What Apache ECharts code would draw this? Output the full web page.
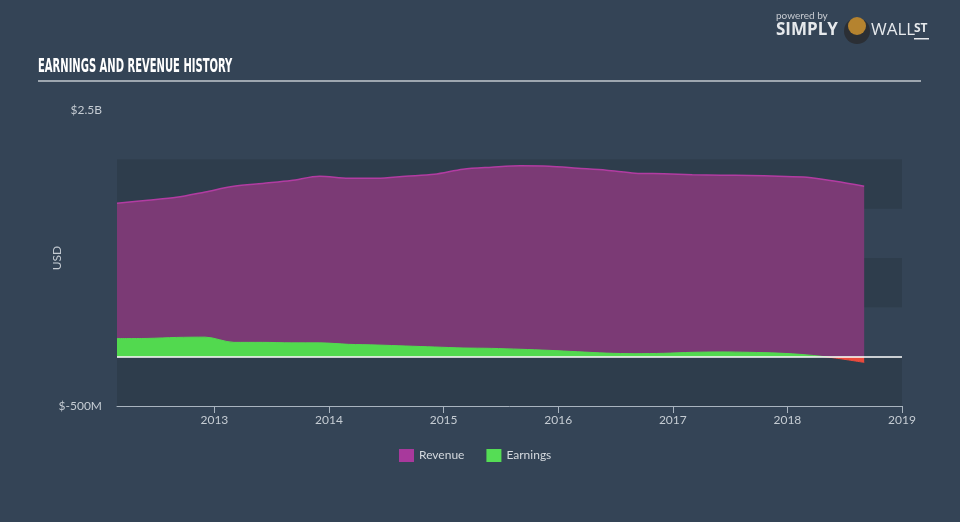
<!DOCTYPE html>
<html>
<head>
<meta charset="utf-8">
<script src="https://cdn.jsdelivr.net/npm/echarts@6/dist/echarts.min.js"></script>
<style>
html,body{margin:0;padding:0;background:#344456;}
#chart{width:960px;height:522px;}
</style>
</head>
<body>
<div id="chart"></div>
<script>
// Dates as fractional years
const dates = [2012.15, 2012.42, 2012.67, 2012.92, 2013.17, 2013.42, 2013.67, 2013.92,
  2014.17, 2014.42, 2014.67, 2014.92, 2015.17, 2015.42, 2015.67, 2015.92,
  2016.17, 2016.42, 2016.67, 2016.92, 2017.17, 2017.42, 2017.67, 2017.92,
  2018.17, 2018.42, 2018.67];
// USD millions
const revenue = [1555, 1585, 1615, 1670, 1727, 1756, 1785, 1828,
  1808, 1808, 1829, 1849, 1900, 1920, 1935, 1930,
  1910, 1890, 1860, 1854, 1844, 1839, 1836, 1829,
  1819, 1778, 1727];
const earnings = [183, 185, 195, 198, 145, 145, 140, 140,
  125, 118, 108, 98, 88, 84, 75, 64,
  50, 36, 30, 34, 44, 48, 44, 36,
  18, -14, -58];
const yearTicks = [2013, 2014, 2015, 2016, 2017, 2018, 2019];
const yMin = -500, yMax = 2500, yStep = 500;

const chart = echarts.init(document.getElementById('chart'), null, {renderer: 'canvas'});
const labelColor = '#c5ccd3';
const baseFont = 'Lato, "Open Sans", sans-serif';

const option = {
  backgroundColor: '#344456',
  animation: false,
  grid: {left: 117, right: 58, top: 110, bottom: 116, containLabel: false},
  xAxis: {
    type: 'value', min: 2012.15, max: 2019,
    axisLine: {show: true, onZero: false, lineStyle: {color: '#a9b4bf', width: 1}},
    axisTick: {show: true, customValues: yearTicks, length: 7, lineStyle: {color: '#a9b4bf'}},
    axisLabel: {show: true, customValues: yearTicks, color: labelColor, fontSize: 12, margin: 8,
      fontFamily: baseFont, formatter: v => String(Math.round(v))},
    splitLine: {show: false}
  },
  yAxis: {
    type: 'value', min: yMin, max: yMax, interval: yStep,
    axisLine: {show: false}, axisTick: {show: false},
    axisLabel: {color: labelColor, fontSize: 12, margin: 15, fontFamily: baseFont,
      formatter: v => v === yMax ? '$2.5B' : (v === yMin ? '$-500M' : '')},
    splitLine: {show: false},
    splitArea: {show: true, areaStyle: {color: ['#2e3d4c', '#344456']}}
  },
  legend: {
    left: 394, top: 444, itemWidth: 15, itemHeight: 13, itemGap: 22,
    icon: 'rect',
    textStyle: {color: '#d4d9de', fontSize: 12, fontFamily: baseFont},
    data: [
      {name: 'Revenue', itemStyle: {color: '#a8399c'}},
      {name: 'Earnings', itemStyle: {color: '#55dd55'}}
    ]
  },
  visualMap: {
    type: 'piecewise', show: false, seriesIndex: 1, dimension: 1,
    pieces: [{min: -1000, max: 0, color: '#ea4a3c'}, {min: 0, max: 3000, color: '#52d94f'}]
  },
  series: [
    {
      name: 'Revenue', type: 'line', smooth: 0.3, symbol: 'none',
      data: dates.map((d, i) => [d, revenue[i]]),
      lineStyle: {color: '#b23ca2', width: 1.5},
      itemStyle: {color: '#a8399c'},
      areaStyle: {color: '#7b3a75', opacity: 1},
      z: 2,
      markLine: {
        silent: true, symbol: 'none', label: {show: false},
        lineStyle: {color: '#ffffff', width: 1.5, type: 'solid'},
        data: [{yAxis: 0}], z: 10
      }
    },
    {
      name: 'Earnings', type: 'line', smooth: 0.3, symbol: 'none',
      data: dates.map((d, i) => [d, earnings[i]]),
      lineStyle: {width: 1},
      itemStyle: {color: '#55dd55'},
      areaStyle: {opacity: 1},
      z: 3
    }
  ],
  graphic: [
    {type: 'text', x: 38, y: 58, scaleX: 0.585, style: {text: 'EARNINGS AND REVENUE HISTORY', fill: '#ffffff',
      font: 'bold 19px "DejaVu Sans Condensed", "DejaVu Sans", sans-serif'}},
    {type: 'rect', left: 38, top: 80, shape: {width: 883, height: 2}, style: {fill: '#9ea7b0'}},
    {type: 'text', x: 57, y: 258, rotation: Math.PI / 2, style: {text: 'USD', fill: labelColor,
      font: '12px Lato, "Open Sans", sans-serif', align: 'center', verticalAlign: 'middle'}},
    {type: 'text', left: 776, top: 11, style: {text: 'powered by', fill: '#c8ccd2', font: '10px Lato, sans-serif'}},
    {type: 'text', left: 776, top: 22, style: {text: 'SIMPLY', fill: '#e6e9ec', font: 'bold 17px "Open Sans", sans-serif'}},
    {type: 'circle', shape: {cx: 857, cy: 31, r: 13}, style: {fill: '#2b2f35'}},
    {type: 'circle', shape: {cx: 857, cy: 26, r: 9}, style: {fill: '#b5832f'}},
    {type: 'text', left: 871, top: 22, style: {text: 'WALL', fill: '#e6e9ec', font: '17px "Open Sans", sans-serif'}},
    {type: 'text', left: 914, top: 23, style: {text: 'ST', fill: '#e6e9ec', font: 'bold 12px "Open Sans", sans-serif'}},
    {type: 'rect', left: 914, top: 38, shape: {width: 15, height: 1.5}, style: {fill: '#e6e9ec'}}
  ]
};
chart.setOption(option);
</script>
</body>
</html>
